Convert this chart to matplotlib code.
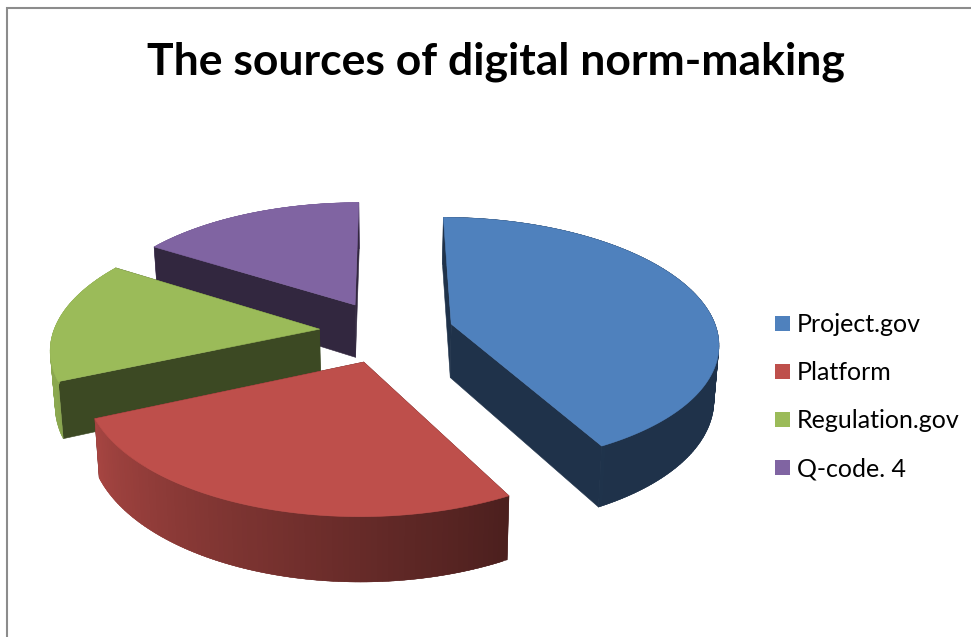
import numpy as np
import matplotlib
matplotlib.use("Agg")
import matplotlib.pyplot as plt
from matplotlib.collections import PolyCollection
from matplotlib.patches import Patch

plt.rcParams['font.family'] = ['Lato', 'DejaVu Sans']

# Slices, clockwise from 12 o'clock
labels = ["Project.gov", "Platform", "Regulation.gov", "Q-code. 4"]
values = [42.2, 26.2, 15.6, 16]
colors = ["#4F81BD", "#BE4F4B", "#9BBB59", "#8064A2"]
title = "The sources of digital norm-making"

# Camera and disc settings, in pixels of the 971x637 figure
cx, cy = 386, 331
rad_x, rad_y = 266, 123.5
persp = 0.14
explode = 0.253
height = 54
bottom_shrink = 0.985

# Side wall brightness against the angle of the wall
shade_angles = [0, 150, 250, 360]
shade_levels = [0.39, 0.39, 0.9, 0.9]
cut_level = 0.39


def project(x, y, bottom=False):
    s = 1.0 / (1 + persp * y)
    sx = rad_x * x * s
    sy = cy - rad_y * y * s
    if bottom:
        sx = sx * bottom_shrink
        sy = sy + height * s
    return cx + sx, sy


def darken(col, level):
    return tuple(c * level for c in matplotlib.colors.to_rgb(col))


def add_poly(ax, verts, col, z, lw=0.4):
    pc = PolyCollection([verts], facecolors=[col], edgecolors=[col], linewidths=lw, zorder=z)
    ax.add_collection(pc)


def draw_slice(ax, start, end, col, z):
    mid = np.radians((start + end) / 2)
    ox, oy = explode * np.sin(mid), explode * np.cos(mid)
    deg = np.arange(start, end + 0.5, 1.0)
    deg[-1] = end
    th = np.radians(deg)
    x = ox + np.sin(th)
    y = oy + np.cos(th)
    tx, ty = project(x, y)
    bx, by = project(x, y, bottom=True)
    ax0, ay0 = project(ox, oy)
    ax1, ay1 = project(ox, oy, bottom=True)
    n = len(deg)

    # Outer wall, one quad per degree so the shading can change along it.
    # Each quad runs on under the next one to hide the seams.
    for i in range(n - 1):
        j = min(i + 2, n - 1)
        level = np.interp(deg[i], shade_angles, shade_levels)
        quad = [(tx[i], ty[i]), (tx[j], ty[j]), (bx[j], by[j]), (bx[i], by[i])]
        # the far half of the wall goes behind the cut faces
        back = np.cos(th[i]) > 0
        add_poly(ax, quad, darken(col, level), z + (0 if back else 0.2) + i * 1e-4, lw=0.3)

    # The two cut faces
    dark = darken(col, cut_level)
    add_poly(ax, [(ax0, ay0), (tx[0], ty[0]), (bx[0], by[0]), (ax1, ay1)], dark, z + 0.1)
    add_poly(ax, [(ax0, ay0), (tx[-1], ty[-1]), (bx[-1], by[-1]), (ax1, ay1)], dark, z + 0.1)

    # Top of the slice
    top = [(ax0, ay0)] + list(zip(tx, ty))
    add_poly(ax, top, col, z + 0.3)


fig = plt.figure(figsize=(9.71, 6.37), dpi=100)
ax = fig.add_axes([0, 0, 1, 1])
ax.set_xlim(0, 971)
ax.set_ylim(637, 0)
ax.axis("off")

angles = np.concatenate([[0], np.cumsum(values) / np.sum(values) * 360])

# Back slices first, the front slice covers the ones behind it
for z, i in enumerate([3, 2, 0, 1]):
    draw_slice(ax, angles[i], angles[i + 1], colors[i], z=2 + z)

# Chart frame, left and top only
ax.plot([7, 7, 971], [637, 8, 8], color="#8C8C8C", lw=1.5, solid_joinstyle="miter", zorder=1)

ax.text(496, 62, title, fontsize=32, fontweight="bold", color="black", ha="center", va="center")

handles = [Patch(facecolor=c, edgecolor="none") for c in colors]
ax.legend(handles, labels, loc="center left", bbox_to_anchor=(0.798, 0.377), frameon=False,
          fontsize=18, handlelength=0.6, handleheight=0.6, handletextpad=0.27,
          labelspacing=1.0, borderpad=0, borderaxespad=0)

fig.savefig("out.png", dpi=100)
